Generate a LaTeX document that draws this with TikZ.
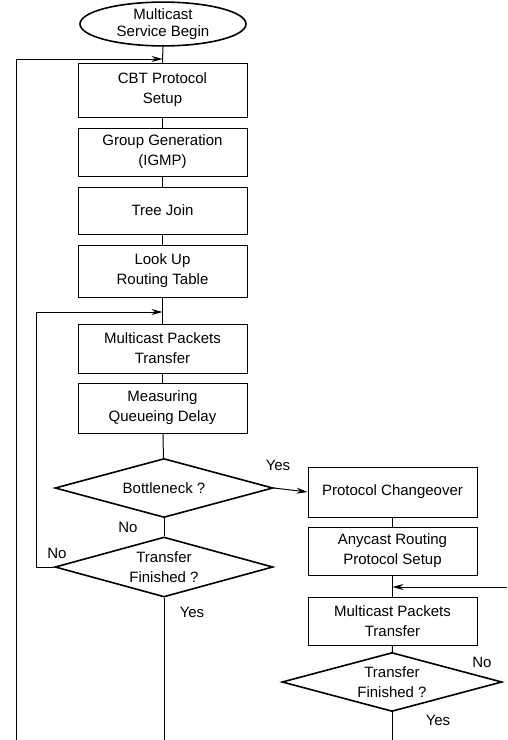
\documentclass[tikz,border=0pt]{standalone}
\usepackage{fontspec}
\setmainfont{Liberation Sans}
\usepackage{tikz}
\usetikzlibrary{shapes.geometric,arrows.meta}

\begin{document}
\begin{tikzpicture}[>={Stealth[length=11pt,width=6pt]}, x=1pt, y=-1pt,
    every node/.style={font=\fontsize{15}{20}\selectfont, align=center},
    stepbox/.style={draw, line width=0.8pt, minimum width=169pt, inner sep=0pt},
    test/.style={draw, diamond, line width=1.6pt, inner sep=0pt, aspect=3.7},
    link/.style={line width=1pt}]
    \useasboundingbox (0,0) rectangle (507,740);
    % main column
    \node[draw, ellipse, line width=1.6pt, minimum width=166pt, minimum height=40pt, inner sep=0pt] (begin) at (163,24) {Multicast\\[-3pt]Service Begin};
    \node[stepbox, minimum height=54pt] (cbt) at (162.5,90) {CBT Protocol\\Setup};
    \node[stepbox, minimum height=48pt] (igmp) at (162.5,152) {Group Generation\\(IGMP)};
    \node[stepbox, minimum height=47pt] (join) at (162.5,210.5) {Tree Join};
    \node[stepbox, minimum height=52pt] (lookup) at (162.5,271) {Look Up\\Routing Table};
    \node[stepbox, minimum height=49pt] (mpt) at (162.5,348.5) {Multicast Packets\\Transfer};
    \node[stepbox, minimum height=50pt] (delay) at (162.5,408) {Measuring\\Queueing Delay};
    \node[test, minimum width=218pt, minimum height=59pt] (bneck) at (164,488) {\smash{\raisebox{-5.5pt}{Bottleneck ?}}};
    \node[test, minimum width=218pt, minimum height=60pt] (fin) at (164,567) {\smash{\raisebox{-5pt}{\begin{tabular}{@{}c@{}}Transfer\\Finished ?\end{tabular}}}};
    % anycast column
    \node[stepbox, minimum height=50pt] (change) at (392.5,492) {Protocol Changeover};
    \node[stepbox, minimum height=48pt] (any) at (392.5,551) {Anycast Routing\\Protocol Setup};
    \node[stepbox, minimum height=48pt] (mpt2) at (392.5,621) {Multicast Packets\\Transfer};
    \node[test, minimum width=220pt, minimum height=59pt] (fin2) at (392,682) {\smash{\raisebox{-5pt}{\begin{tabular}{@{}c@{}}Transfer\\Finished ?\end{tabular}}}};
    % junctions and loose ends
    \coordinate (j1) at (162.5,59);
    \coordinate (j2) at (162.5,312);
    \coordinate (j3) at (392.5,587);
    \coordinate (e3) at (507,587);
    \coordinate (l1) at (16,740);
    \coordinate (l2) at (36,567);
    \coordinate (b1) at (164,740);
    \coordinate (b2) at (392,740);
    % connectors
    \draw[link] (begin.south) -- (cbt.north);
    \draw[link] (cbt) -- (igmp);
    \draw[link] (igmp) -- (join);
    \draw[link] (join) -- (lookup);
    \draw[link] (lookup) -- (mpt);
    \draw[link] (mpt) -- (delay);
    \draw[link] (delay) -- (bneck);
    \draw[link] (bneck) -- (fin);
    \draw[link] (fin) -- (b1);
    \draw[link,->] (l1) |- (j1);
    \draw[link,->] (fin.west) -- (l2) |- (j2);
    \draw[link,->] (bneck.east) -- (change.west);
    \draw[link] (change) -- (any);
    \draw[link] (any) -- (mpt2);
    \draw[link] (mpt2) -- (fin2);
    \draw[link] (fin2) -- (b2);
    \draw[link,->] (e3) -- (j3);
    % labels
    \node (yes1) at (278,465) {Yes};
    \node (no1) at (128,527) {No};
    \node (no2) at (57,553) {No};
    \node (yes2) at (192,612) {Yes};
    \node (no3) at (482,662) {No};
    \node (yes3) at (438,720) {Yes};
\end{tikzpicture}
\end{document}
